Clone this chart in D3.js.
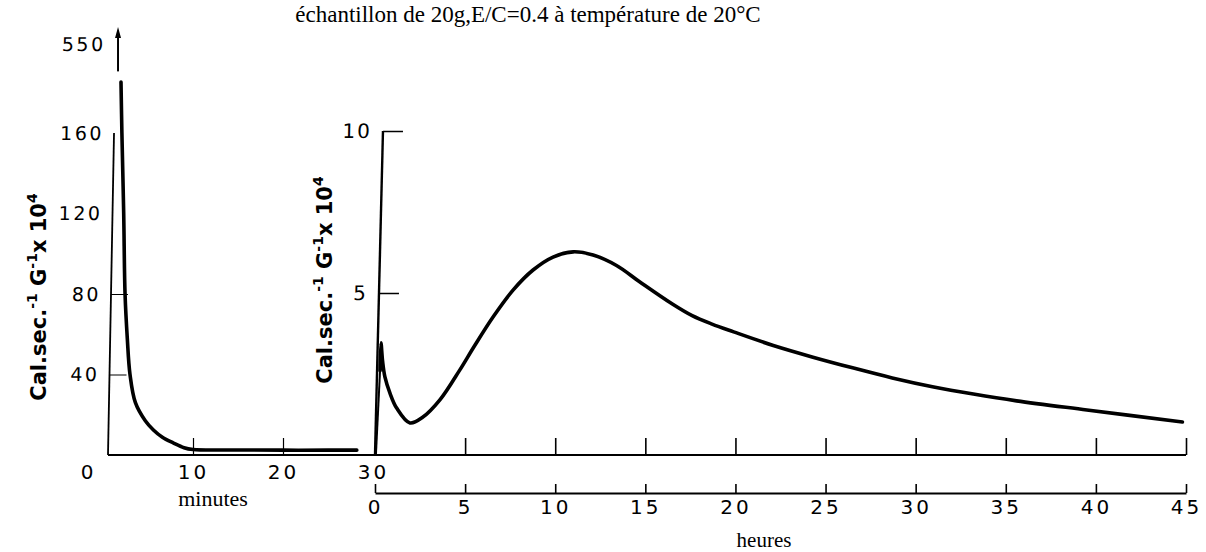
<!DOCTYPE html>
<html>
<head>
<meta charset="utf-8">
<script src="https://cdn.jsdelivr.net/npm/d3@7"></script>
<style>
    body { margin: 0; background: #fff; }
    svg { display: block; }
    .lbl { font-family: "DejaVu Sans", sans-serif; fill: #000; }
    .serif { font-family: "Liberation Serif", "Times New Roman", serif; fill: #000; }
</style>
</head>
<body>
<div id="chart"></div>
<script>
// ---- data ----
// first minutes (left panel), Cal.sec-1 G-1 x 10^4
const minutesX = [2.0, 2.1, 2.3, 2.45, 2.7, 3.0, 3.6, 4.7, 5.6, 6.6, 7.8, 9.0, 10, 15, 20, 25, 28.2];
const minutesY = [383, 160, 120, 80, 58, 40, 26, 17, 12.4, 8.8, 6.0, 3.6, 2.7, 2.5, 2.4, 2.4, 2.4];

// hours (right panel)
const hoursX = [0.28, 0.33, 0.42, 0.55, 0.83, 1.2, 1.94, 2.66, 3.6, 4.7, 5.5, 6.55, 7.66, 8.77, 9.88, 11.0, 12.1, 13.4,
    14.7, 16.5, 17.6, 18.7, 19.9, 22.1, 24.3, 26.5, 28.7, 31.0, 33.2, 35.6, 39.5, 44.8];
const hoursY = [2.6, 3.46, 2.9, 2.41, 1.91, 1.45, 0.99, 1.17, 1.7, 2.62, 3.35, 4.26, 5.09, 5.71, 6.11, 6.27, 6.17, 5.85,
    5.34, 4.66, 4.30, 4.04, 3.80, 3.38, 3.02, 2.69, 2.38, 2.10, 1.88, 1.67, 1.39, 1.02];

const minuteTicks = [0, 10, 20, 30];
const hourTicks = [0, 5, 10, 15, 20, 25, 30, 35, 40, 45];
const leftYTicks = [40, 80, 120, 160, 550];
const rightYTicks = [5, 10];

// off-scale peak, drawn as an arrow
const peakArrow = {minute: 1.67, from: 430, to: 550};

const title = "échantillon de 20g,E/C=0.4 à température de 20°C";

// ---- drawing ----
const width = 1206, height = 552;

const svg = d3.select("#chart").append("svg")
    .attr("width", width)
    .attr("height", height);

svg.append("rect").attr("width", width).attr("height", height).attr("fill", "#fff");

// scales
let xMin = d3.scaleLinear().domain([0, 30]).range([103, 373]);
let xHour = d3.scaleLinear().domain([0, 45]).range([375, 1186]);
let yLeft = d3.scaleLinear().domain([0, 160, 550]).range([455, 133, 44]);
let yRight = d3.scaleLinear().domain([0, 10]).range([455, 131]);

const axisY = 455, lowerY = 493;

// main baseline across both panels
svg.append("line")
    .attr("x1", 108).attr("x2", xHour(45))
    .attr("y1", axisY).attr("y2", axisY)
    .attr("stroke", "#000").attr("stroke-width", 2);

function styleAxis(g, fontSize, spacing) {
    g.select(".domain").remove();
    g.selectAll(".tick line").attr("stroke", "#000").attr("stroke-width", 1.6);
    g.selectAll(".tick text")
        .attr("class", "lbl")
        .style("font-size", fontSize + "px")
        .style("letter-spacing", spacing + "px")
        .attr("fill", "#000");
}

// minutes axis (ticks up, labels below)
let minAxis = svg.append("g")
    .attr("transform", `translate(0, ${axisY})`)
    .call(d3.axisBottom(xMin).tickValues(minuteTicks).tickSizeInner(-17).tickSizeOuter(0).tickPadding(10));
styleAxis(minAxis, 20, 3);
minAxis.selectAll(".tick").filter(d => d === 0 || d === 30).select("line").remove();
minAxis.selectAll(".tick line").attr("stroke-width", 1.2);
minAxis.selectAll(".tick").filter(d => d === 0).select("text").attr("dx", -15);

// hours ticks on the upper line
let hourUpper = svg.append("g")
    .attr("transform", `translate(0, ${axisY})`)
    .call(d3.axisBottom(xHour).tickValues(hourTicks.slice(1)).tickSizeInner(-17).tickSizeOuter(0).tickFormat(""));
styleAxis(hourUpper, 20, 3);

// lower hours axis
let hourLower = svg.append("g")
    .attr("transform", `translate(0, ${lowerY})`)
    .call(d3.axisBottom(xHour).tickValues(hourTicks).tickSizeInner(-9).tickSizeOuter(0).tickPadding(7));
hourLower.select(".domain").attr("stroke", "#000").attr("stroke-width", 2);
hourLower.selectAll(".tick line").attr("stroke", "#000").attr("stroke-width", 1.6);
hourLower.selectAll(".tick text")
    .attr("class", "lbl")
    .style("font-size", "20px")
    .style("letter-spacing", "3px")
    .attr("fill", "#000");

// left y axis (slightly slanted, like the drawing)
let leftAxis = svg.append("g")
    .attr("transform", `translate(108, ${axisY}) skewX(-1.07) translate(0, ${-axisY})`)
    .call(d3.axisLeft(yLeft).tickValues(leftYTicks).tickSizeInner(-17).tickSizeOuter(0).tickPadding(10));
styleAxis(leftAxis, 19, 2.5);
leftAxis.selectAll(".tick").filter(d => d > 80).select("line").remove();
leftAxis.selectAll(".tick line").attr("stroke-width", 1.2);
leftAxis.append("line")
    .attr("y1", yLeft(0)).attr("y2", yLeft(160))
    .attr("stroke", "#000").attr("stroke-width", 1.8);

// right y axis
let rightAxis = svg.append("g")
    .attr("transform", `translate(${xHour(0)}, ${axisY}) skewX(-1.41) translate(0, ${-axisY})`)
    .call(d3.axisLeft(yRight).tickValues(rightYTicks).tickSizeInner(-20).tickSizeOuter(0).tickPadding(11));
styleAxis(rightAxis, 20, 2);
rightAxis.append("line")
    .attr("y1", yRight(0)).attr("y2", yRight(10))
    .attr("stroke", "#000").attr("stroke-width", 2.4);

// curves
let line = d3.line().curve(d3.curveCatmullRom.alpha(0.5));

svg.append("path")
    .attr("d", line(minutesX.map((m, i) => [xMin(m), yLeft(minutesY[i])])))
    .attr("fill", "none")
    .attr("stroke", "#000")
    .attr("stroke-width", 3.6)
    .attr("stroke-linecap", "round");

svg.append("path")
    .attr("d", line(hoursX.map((h, i) => [xHour(h), yRight(hoursY[i])])))
    .attr("fill", "none")
    .attr("stroke", "#000")
    .attr("stroke-width", 3.6)
    .attr("stroke-linecap", "round")
    .attr("stroke-linejoin", "round");

// rise of the hours curve from the baseline
svg.append("line")
    .attr("x1", xHour(0.05)).attr("y1", yRight(0))
    .attr("x2", xHour(hoursX[0])).attr("y2", yRight(hoursY[0]))
    .attr("stroke", "#000").attr("stroke-width", 2);

// arrow to the off-scale peak
let ax = xMin(peakArrow.minute);
svg.append("line")
    .attr("x1", ax).attr("x2", ax)
    .attr("y1", yLeft(peakArrow.from)).attr("y2", yLeft(peakArrow.to) - 8)
    .attr("stroke", "#000").attr("stroke-width", 2);
svg.append("path")
    .attr("d", `M${ax - 3},${yLeft(peakArrow.to) - 6} L${ax},${yLeft(peakArrow.to) - 17} L${ax + 3},${yLeft(peakArrow.to) - 6} Z`)
    .attr("fill", "#000");

// y titles
function yTitle(x, y) {
    let t = svg.append("text")
        .attr("class", "lbl")
        .attr("transform", `translate(${x}, ${y}) rotate(-90)`)
        .attr("text-anchor", "middle")
        .style("font-size", "21px")
        .style("font-weight", "bold");
    t.append("tspan").text("Cal.sec.");
    t.append("tspan").attr("dy", -9).style("font-size", "14px").text("-1");
    t.append("tspan").attr("dy", 9).text(" G");
    t.append("tspan").attr("dy", -9).style("font-size", "14px").text("-1");
    t.append("tspan").attr("dy", 9).text("x 10");
    t.append("tspan").attr("dy", -9).style("font-size", "14px").text("4");
}
yTitle(46, 297);
yTitle(332, 280);

// texts
svg.append("text")
    .attr("class", "serif")
    .attr("x", 528).attr("y", 22)
    .attr("text-anchor", "middle")
    .style("font-size", "23px")
    .text(title);

svg.append("text")
    .attr("class", "serif")
    .attr("x", 213).attr("y", 506)
    .attr("text-anchor", "middle")
    .style("font-size", "22px")
    .text("minutes");

svg.append("text")
    .attr("class", "serif")
    .attr("x", 764).attr("y", 547)
    .attr("text-anchor", "middle")
    .style("font-size", "21px")
    .text("heures");
</script>
</body>
</html>
